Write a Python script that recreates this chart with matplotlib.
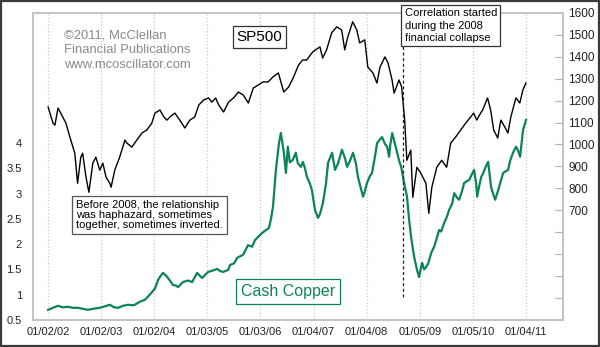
import matplotlib
matplotlib.use('Agg')
import matplotlib.pyplot as plt
import matplotlib.dates as mdates
import pandas as pd
from matplotlib.patches import Rectangle

plt.rcParams['font.family'] = ['Liberation Sans', 'DejaVu Sans']

# S&P 500 (right axis)
sp_dates = ['2002-01-02', '2002-02-05', '2002-02-18', '2002-03-11', '2002-04-13', '2002-05-05',
            '2002-06-01', '2002-07-05', '2002-07-24', '2002-08-15', '2002-08-28', '2002-09-20',
            '2002-10-10', '2002-11-06', '2002-11-27', '2002-12-24', '2003-01-14', '2003-02-05',
            '2003-03-03', '2003-03-12', '2003-04-06', '2003-05-10', '2003-06-15', '2003-06-29',
            '2003-08-02', '2003-09-05', '2003-10-10', '2003-11-13', '2003-12-17', '2004-01-08',
            '2004-02-11', '2004-03-10', '2004-03-30', '2004-04-20', '2004-05-24', '2004-06-27',
            '2004-08-01', '2004-09-04', '2004-10-08', '2004-11-05', '2004-12-09', '2005-01-12',
            '2005-02-02', '2005-03-01', '2005-03-22', '2005-04-25', '2005-05-29', '2005-07-02',
            '2005-08-05', '2005-09-08', '2005-10-12', '2005-11-15', '2005-12-19', '2006-01-22',
            '2006-02-25', '2006-03-31', '2006-05-07', '2006-06-13', '2006-07-17', '2006-08-20',
            '2006-09-23', '2006-10-21', '2006-11-18', '2006-12-30', '2007-02-17', '2007-03-08',
            '2007-04-04', '2007-05-09', '2007-06-13', '2007-07-17', '2007-08-07', '2007-08-28',
            '2007-10-01', '2007-10-29', '2007-11-18', '2007-12-23', '2008-01-13', '2008-02-17',
            '2008-03-16', '2008-04-06', '2008-05-10', '2008-05-31', '2008-06-28', '2008-07-12',
            '2008-08-15', '2008-09-02', '2008-09-23', '2008-10-08', '2008-11-04', '2008-11-18',
            '2008-12-16', '2009-01-12', '2009-02-16', '2009-03-08', '2009-03-29', '2009-05-02',
            '2009-06-05', '2009-07-09', '2009-08-06', '2009-09-09', '2009-10-14', '2009-11-17',
            '2009-12-21', '2010-01-11', '2010-02-01', '2010-02-28', '2010-03-14', '2010-04-17',
            '2010-05-08', '2010-05-29', '2010-06-26', '2010-07-17', '2010-08-14', '2010-09-04',
            '2010-09-24', '2010-10-29', '2010-11-25', '2010-12-16', '2011-01-06']
sp500 = [1171, 1097, 1088, 1166, 1125, 1097,
         1034, 960, 823, 942, 960, 851,
         782, 915, 942, 883, 915, 851,
         823, 805, 883, 942, 1020, 1006,
         988, 1020, 1052, 1066, 1097, 1143,
         1157, 1125, 1111, 1125, 1143, 1111,
         1075, 1111, 1125, 1180, 1203, 1212,
         1193, 1212, 1180, 1148, 1193, 1212,
         1239, 1225, 1189, 1257, 1271, 1285,
         1285, 1308, 1326, 1239, 1262, 1308,
         1362, 1385, 1385, 1422, 1445, 1394,
         1431, 1509, 1536, 1522, 1431, 1490,
         1559, 1522, 1463, 1477, 1353, 1326,
         1280, 1353, 1399, 1372, 1294, 1234,
         1294, 1262, 1111, 928, 974, 759,
         896, 869, 823, 686, 805, 896,
         928, 896, 1006, 1034, 1066, 1097,
         1125, 1143, 1111, 1143, 1157, 1212,
         1157, 1066, 1029, 1111, 1079, 1052,
         1125, 1212, 1189, 1248, 1280]

# cash copper, $/lb (left axis)
cu_dates = ['2002-01-02', '2002-02-05', '2002-03-11', '2002-04-15', '2002-05-19', '2002-06-22',
            '2002-07-27', '2002-08-30', '2002-10-03', '2002-11-06', '2002-12-24', '2003-01-28',
            '2003-03-04', '2003-04-01', '2003-04-28', '2003-06-02', '2003-07-06', '2003-08-16',
            '2003-09-26', '2003-10-31', '2003-11-27', '2003-12-18', '2004-01-08', '2004-01-29',
            '2004-02-18', '2004-03-03', '2004-03-24', '2004-04-07', '2004-04-27', '2004-05-11',
            '2004-06-01', '2004-06-15', '2004-07-19', '2004-08-23', '2004-09-20', '2004-10-24',
            '2004-11-28', '2005-01-08', '2005-02-11', '2005-03-11', '2005-04-01', '2005-04-21',
            '2005-05-26', '2005-06-09', '2005-07-06', '2005-07-27', '2005-09-06', '2005-10-10',
            '2005-11-07', '2005-11-27', '2005-12-17', '2006-01-14', '2006-02-11', '2006-03-03',
            '2006-03-17', '2006-03-31', '2006-04-20', '2006-05-11', '2006-05-24', '2006-06-14',
            '2006-06-28', '2006-07-11', '2006-07-25', '2006-08-15', '2006-09-04', '2006-09-18',
            '2006-10-09', '2006-10-23', '2006-11-06', '2006-11-20', '2006-12-10', '2006-12-24',
            '2007-01-14', '2007-02-04', '2007-02-18', '2007-03-10', '2007-03-31', '2007-04-14',
            '2007-05-12', '2007-06-01', '2007-06-22', '2007-07-19', '2007-08-09', '2007-08-23',
            '2007-09-12', '2007-10-03', '2007-10-23', '2007-11-06', '2007-11-27', '2007-12-11',
            '2007-12-24', '2008-01-07', '2008-01-28', '2008-02-11', '2008-03-03', '2008-03-17',
            '2008-04-07', '2008-04-20', '2008-05-11', '2008-05-25', '2008-06-08', '2008-06-15',
            '2008-06-29', '2008-07-12', '2008-08-02', '2008-08-16', '2008-08-30', '2008-09-19',
            '2008-10-09', '2008-10-23', '2008-11-06', '2008-11-27', '2008-12-17', '2008-12-31',
            '2009-01-07', '2009-01-21', '2009-02-04', '2009-02-18', '2009-03-04', '2009-03-25',
            '2009-04-14', '2009-04-28', '2009-05-18', '2009-06-01', '2009-06-22', '2009-07-12',
            '2009-07-26', '2009-08-16', '2009-08-30', '2009-09-19', '2009-10-03', '2009-10-23',
            '2009-11-06', '2009-11-27', '2009-12-11', '2009-12-24', '2010-01-14', '2010-01-28',
            '2010-02-04', '2010-02-18', '2010-03-04', '2010-03-18', '2010-04-07', '2010-04-21',
            '2010-05-11', '2010-05-25', '2010-06-08', '2010-06-29', '2010-07-12', '2010-08-02',
            '2010-09-05', '2010-09-19', '2010-10-09', '2010-10-30', '2010-11-13', '2010-11-27',
            '2010-12-17', '2011-01-07']
copper = [0.70, 0.74, 0.78, 0.75, 0.76, 0.74,
          0.74, 0.72, 0.70, 0.72, 0.74, 0.77,
          0.80, 0.75, 0.74, 0.78, 0.80, 0.79,
          0.86, 0.90, 0.98, 1.05, 1.12, 1.29,
          1.38, 1.43, 1.38, 1.33, 1.25, 1.19,
          1.18, 1.15, 1.25, 1.28, 1.25, 1.43,
          1.33, 1.45, 1.48, 1.51, 1.47, 1.45,
          1.49, 1.59, 1.62, 1.73, 1.79, 1.98,
          1.95, 2.08, 2.14, 2.22, 2.28, 2.32,
          2.50, 2.74, 3.47, 4.00, 4.20, 3.81,
          3.41, 3.93, 3.62, 3.67, 3.81, 3.60,
          3.53, 3.63, 3.50, 3.33, 3.20, 3.07,
          2.68, 2.52, 2.60, 2.82, 3.20, 3.61,
          3.81, 3.47, 3.60, 3.87, 3.70, 3.53,
          3.65, 3.81, 3.60, 3.33, 3.10, 2.94,
          3.05, 3.21, 3.35, 3.41, 3.75, 4.00,
          4.08, 4.12, 3.98, 3.93, 3.73, 3.95,
          4.20, 4.05, 3.81, 3.65, 3.53, 3.21,
          2.94, 2.50, 2.14, 1.75, 1.49, 1.35,
          1.45, 1.63, 1.50, 1.55, 1.62, 1.83,
          1.95, 2.08, 2.28, 2.25, 2.42, 2.55,
          2.68, 2.80, 3.01, 2.92, 2.88, 3.05,
          3.21, 3.25, 3.27, 3.35, 3.47, 3.20,
          2.94, 3.15, 3.33, 3.41, 3.55, 3.63,
          3.13, 3.00, 2.88, 3.07, 3.20, 3.41,
          3.47, 3.65, 3.81, 3.93, 3.85, 3.73,
          4.26, 4.46]

tick_dates = ['2002-01-02', '2003-01-02', '2004-01-02', '2005-01-03', '2006-01-03',
              '2007-01-04', '2008-01-04', '2009-01-05', '2010-01-05', '2011-01-04']
corr_start = '2008-09-12'

green = '#0b8457'
txt_size = 8

fig = plt.figure(figsize=(6, 3.47), dpi=100)
ax = fig.add_axes([0.055, 0.078, 0.883, 0.885])
ax2 = ax.twinx()

sp_x = pd.to_datetime(sp_dates)
cu_x = pd.to_datetime(cu_dates)
ax.plot(cu_x, copper, color=green, lw=1.6)
ax2.plot(sp_x, sp500, color='black', lw=1.0)

ax.set_xlim(pd.Timestamp('2001-09-20'), pd.Timestamp('2011-09-17'))
ax.set_ylim(0.5, 6.58)
ax2.set_ylim(200, 1600)

ax.set_xticks(pd.to_datetime(tick_dates))
ax.xaxis.set_major_formatter(mdates.DateFormatter('%m/%d/%y'))
ax.grid(axis='x', color='#c8c8c8', linestyle=':', lw=0.9)

ax.set_yticks([0.5, 1, 1.5, 2, 2.5, 3, 3.5, 4])
ax.set_yticklabels(['0.5', '1', '1.5', '2', '2.5', '3', '3.5', '4'])
ax.tick_params(axis='y', length=0, pad=8, labelsize=txt_size, labelcolor='#222222')
ax.tick_params(axis='x', length=0, pad=5, labelsize=txt_size, labelcolor='#222222')

ax2.set_yticks(range(200, 1700, 100))
ax2.set_yticklabels([str(v) if v >= 700 else '' for v in range(200, 1700, 100)])
ax2.tick_params(axis='y', direction='in', length=6, color='#b0b0b0', pad=4,
                labelsize=8.5, labelcolor='#222222')

for a in (ax, ax2):
  for sp in a.spines.values():
    sp.set_color('#c4c4c4')
    sp.set_linewidth(1.3)

# annotations
ax2.axvline(pd.Timestamp(corr_start), ymin=0.075, ymax=1.0, color='#222222',
            lw=0.9, linestyle=(0, (2.5, 2)))

ax2.text(0.0585, 0.945, '\u00a92011, McClellan\nFinancial Publications\nwww.mcoscillator.com',
         transform=ax2.transAxes, va='top', ha='left', fontsize=9.4, color='#8a8a8a',
         linespacing=1.3)
ax2.text(0.427, 0.922, 'SP500', transform=ax2.transAxes, ha='center', va='center',
         fontsize=11, bbox=dict(boxstyle='square,pad=0.25', fc='white', ec='#333333', lw=0.9))
ax2.text(0.7015, 1.015, 'Correlation started\nduring the 2008\nfinancial collapse',
         transform=ax2.transAxes, ha='left', va='top', fontsize=txt_size, linespacing=1.3,
         bbox=dict(boxstyle='square,pad=0.3', fc='white', ec='#333333', lw=0.9), zorder=5)
ax2.text(0.0811, 0.392, 'Before 2008, the relationship\nwas haphazard, sometimes\ntogether, sometimes inverted.',
         transform=ax2.transAxes, ha='left', va='top', fontsize=txt_size, linespacing=1.05,
         bbox=dict(boxstyle='square,pad=0.35', fc='white', ec='#555555', lw=0.9))
ax2.text(0.481, 0.093, 'Cash Copper', transform=ax2.transAxes, ha='center', va='center',
         fontsize=11.5, color=green,
         bbox=dict(boxstyle='square,pad=0.3', fc='white', ec=green, lw=0.9))

# outer frame of the picture
fig.patches.append(Rectangle((0.002, 0.003), 0.996, 0.994, transform=fig.transFigure,
                             fill=False, ec='#3a3a3a', lw=1.6))

fig.savefig('out.png', dpi=100)
